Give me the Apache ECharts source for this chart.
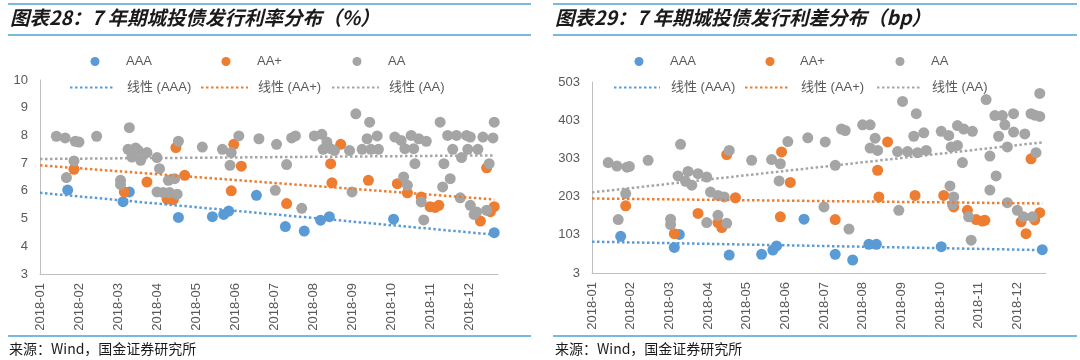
<!DOCTYPE html>
<html><head><meta charset="utf-8">
<script src="https://cdn.jsdelivr.net/npm/echarts@6/dist/echarts.min.js"></script>
<style>html,body{margin:0;padding:0;background:#fff}#c{width:1080px;height:360px}</style>
</head><body><div id="c"></div>
<script>
// ---- tick labels (one label every 31 days from 2018-01-01) ----
const xTickLabels = ['2018-01','2018-02','2018-03','2018-04','2018-05','2018-06','2018-07','2018-08','2018-09','2018-10','2018-11','2018-12'];
const seriesNames = ['AAA','AA+','AA'];
const trendNames = ['线性 (AAA)','线性 (AA+)','线性 (AA)'];

// ---- Chart 28: issuance rate (%) ; x = days since 2018-01-01 ----
const rateAAADays = [22,66,71,110,137,146,150,172,195,210,223,230,281,361];
const rateAAAVals = [6.03,5.61,5.96,5.04,5.07,5.15,5.27,5.84,4.71,4.55,4.94,5.07,4.98,4.49];
const rateAAPlusDays = [27,67,85,101,106,108,115,152,154,160,196,231,232,239,261,284,292,303,310,314,317,350,355,358,361];
const rateAAPlusVals = [6.78,5.96,6.32,5.70,5.69,7.56,6.56,6.00,7.68,6.89,5.54,6.98,6.29,7.68,6.38,6.26,5.93,5.78,5.43,5.40,5.48,4.91,6.83,5.25,5.43];
const rateAADays = [13,20,28,31,45,27,21,71,70,76,78,73,80,85,93,95,64,64,102,107,93,98,103,109,110,
  129,145,152,158,151,174,188,200,203,196,187,208,218,224,228,225,231,234,
  246,251,262,260,268,256,263,269,248,282,287,290,297,295,301,307,298,289,292,303,305,
  318,321,326,320,324,331,339,342,328,335,340,348,334,342,347,345,352,360,361,357,355];
const rateAAVals = [7.97,7.91,7.79,7.76,7.97,7.08,6.48,8.28,7.50,7.55,7.46,7.22,7.10,7.38,7.20,6.80,6.38,6.23,6.38,6.44,5.96,5.94,5.94,5.88,7.79,
  7.58,7.50,7.38,7.98,6.92,7.88,7.68,7.91,7.98,6.95,6.02,5.37,7.98,8.04,7.76,7.50,7.52,7.46,
  7.46,8.78,8.48,7.88,7.98,7.50,7.50,7.50,5.96,7.94,7.82,7.52,7.52,8.00,7.88,7.79,6.98,6.50,6.20,5.60,4.95,
  8.48,6.98,6.44,6.14,8.00,8.00,8.00,7.94,7.50,7.20,7.50,7.50,5.75,5.48,5.24,5.15,7.94,7.91,8.48,6.98,5.30];
const trendDays = [0, 361];
const rateTrendAAA = [5.93, 4.42];
const rateTrendAAPlus = [6.92, 5.69];
const rateTrendAA = [7.15, 7.28];

// ---- Chart 29: issuance spread (bp) ----
const spreadAAADays = [23,66,70,110,136,145,148,170,195,209,222,228,280,361];
const spreadAAAVals = [99,70,104,50,52,63,74,144,52,37,78,78,72,64];
const spreadAAPlusDays = [27,66,85,101,104,108,115,151,152,159,195,229,230,237,259,282,290,301,308,313,315,344,348,352,355,359];
const spreadAAPlusVals = [179,106,159,135,122,313,200,150,320,240,143,272,202,346,206,206,176,167,143,139,141,137,106,302,142,161];
const spreadAADays = [13,20,28,30,45,71,27,21,63,63,69,75,77,80,85,92,95,101,106,92,101,108,110,
  128,144,151,157,150,173,187,200,203,217,223,227,223,229,195,186,206,
  245,253,261,268,249,260,258,266,246,280,286,293,298,305,288,293,297,287,290,289,302,304,
  316,323,329,331,338,326,319,324,319,333,338,347,333,341,346,353,352,355,359,359,356];
const spreadAAVals = [292,283,280,282,298,340,211,143,144,130,257,243,269,233,263,254,215,206,202,135,154,133,324,
  298,300,289,347,244,357,346,380,376,391,391,356,330,324,285,176,118,
  321,321,318,324,452,420,361,370,167,374,363,389,380,374,333,337,292,231,202,182,150,89,
  457,415,415,391,420,361,309,257,220,333,372,367,187,167,150,150,420,416,413,473,318];
const spreadTrendAAA = [85, 63];
const spreadTrendAAPlus = [198, 185];
const spreadTrendAA = [214, 345];

const colors = ['#5B9BD5','#ED7D31','#A5A5A5'];
const latin = 'Liberation Sans, Arial, Noto Sans CJK SC, sans-serif';
const labelColor = '#595959';
const ruleColor = '#4AA3D2';

function pairs(xs, ys){ return xs.map((x,i)=>[x, ys[i]]); }

function scatter(name, xs, ys, idx, ci){
  return {type:'scatter', name, xAxisIndex:ci, yAxisIndex:ci, data:pairs(xs,ys),
    symbolSize:11, itemStyle:{color:colors[idx], opacity:1}, z:2+idx, silent:true};
}
function trend(name, ys, idx, ci){
  return {type:'line', name, xAxisIndex:ci, yAxisIndex:ci, data:pairs(trendDays, ys),
    symbol:'none', lineStyle:{color:colors[idx], width:2.5, type:[2.5,2.5]}, itemStyle:{color:colors[idx]}, z:10, silent:true};
}
function xAxis(ci){
  return {type:'value', gridIndex:ci, min:0, max:364, interval:31,
    axisLine:{show:true, lineStyle:{color:'#BFBFBF', width:1}}, axisTick:{show:false}, splitLine:{show:false},
    axisLabel:{rotate:90, margin:9, fontSize:13, color:labelColor, fontFamily:latin, showMaxLabel:false,
      formatter:(v)=> xTickLabels[Math.round(v/31)] || ''}};
}
function yAxis(ci, min, max, interval){
  return {type:'value', gridIndex:ci, min, max, interval,
    axisLine:{show:true, lineStyle:{color:'#BFBFBF', width:1}}, axisTick:{show:false}, splitLine:{show:false},
    axisLabel:{margin:12, fontSize:13, color:labelColor, fontFamily:latin}};
}
const legText = {fontSize:13, color:labelColor, fontFamily:latin};
function dotLegend(name, cx, cy, textX){
  return {data:[name], left:cx-4.5, top:cy-7, padding:0, icon:'circle', itemWidth:9, itemHeight:9,
    selectedMode:false, textStyle:Object.assign({padding:[0,0,0,textX-(cx+4.5+5)]}, legText)};
}
function lineLegend(name, x0, x1, cy, textX){
  return {data:[name], left:x0, top:cy-7, padding:0, itemWidth:x1-x0, itemHeight:14,
    selectedMode:false, itemStyle:{opacity:0},
    textStyle:Object.assign({padding:[0,0,0,textX-(x1+5)]}, legText)};
}

const chart = echarts.init(document.getElementById('c'), null, {renderer:'canvas'});
const option = {
  animation:false,
  backgroundColor:'#fff',
  title:[
    {text:'图表28：7 年期城投债发行利率分布（%）', left:10, top:8, padding:0,
      textStyle:{fontSize:19.5, fontWeight:'bold', fontStyle:'italic', color:'#1A1A1A', fontFamily:'Noto Sans CJK SC, sans-serif'}},
    {text:'图表29：7 年期城投债发行利差分布（bp）', left:555, top:8, padding:0,
      textStyle:{fontSize:19.5, fontWeight:'bold', fontStyle:'italic', color:'#1A1A1A', fontFamily:'Noto Sans CJK SC, sans-serif'}}
  ],
  grid:[
    {left:40, top:80, width:458, height:194},
    {left:592, top:82, width:454, height:191}
  ],
  xAxis:[xAxis(0), xAxis(1)],
  yAxis:[yAxis(0,3,10,1), yAxis(1,3,503,100)],
  legend:[
    dotLegend(seriesNames[0], 95, 62, 126), dotLegend(seriesNames[1], 226, 62, 257), dotLegend(seriesNames[2], 357, 62, 388),
    lineLegend(trendNames[0], 69, 114, 88, 126), lineLegend(trendNames[1], 200, 247, 88, 257), lineLegend(trendNames[2], 331, 378, 88, 388),
    dotLegend(seriesNames[0], 639, 62, 670), dotLegend(seriesNames[1], 770, 62, 800), dotLegend(seriesNames[2], 900, 62, 931),
    lineLegend(trendNames[0], 613, 659, 88, 670), lineLegend(trendNames[1], 744, 788, 88, 800), lineLegend(trendNames[2], 876, 921, 88, 931)
  ],
  graphic:[
    {type:'line', shape:{x1:8, y1:4, x2:531, y2:4}, style:{stroke:ruleColor, lineWidth:1.5}},
    {type:'line', shape:{x1:8, y1:35, x2:531, y2:35}, style:{stroke:ruleColor, lineWidth:1.5}},
    {type:'line', shape:{x1:8, y1:336, x2:531, y2:336}, style:{stroke:ruleColor, lineWidth:1.5}},
    {type:'line', shape:{x1:553, y1:4, x2:1077, y2:4}, style:{stroke:ruleColor, lineWidth:1.5}},
    {type:'line', shape:{x1:553, y1:35, x2:1077, y2:35}, style:{stroke:ruleColor, lineWidth:1.5}},
    {type:'line', shape:{x1:553, y1:336, x2:1077, y2:336}, style:{stroke:ruleColor, lineWidth:1.5}},
    {type:'text', left:9, top:342, style:{text:'来源：Wind，国金证券研究所', fontSize:14, fill:'#1A1A1A', fontFamily:'Noto Sans CJK SC, sans-serif'}},
    {type:'text', left:555, top:342, style:{text:'来源：Wind，国金证券研究所', fontSize:14, fill:'#1A1A1A', fontFamily:'Noto Sans CJK SC, sans-serif'}}
  ],
  series:[
    scatter(seriesNames[0], rateAAADays, rateAAAVals, 0, 0),
    scatter(seriesNames[1], rateAAPlusDays, rateAAPlusVals, 1, 0),
    scatter(seriesNames[2], rateAADays, rateAAVals, 2, 0),
    trend(trendNames[0], rateTrendAAA, 0, 0),
    trend(trendNames[1], rateTrendAAPlus, 1, 0),
    trend(trendNames[2], rateTrendAA, 2, 0),
    scatter(seriesNames[0], spreadAAADays, spreadAAAVals, 0, 1),
    scatter(seriesNames[1], spreadAAPlusDays, spreadAAPlusVals, 1, 1),
    scatter(seriesNames[2], spreadAADays, spreadAAVals, 2, 1),
    trend(trendNames[0], spreadTrendAAA, 0, 1),
    trend(trendNames[1], spreadTrendAAPlus, 1, 1),
    trend(trendNames[2], spreadTrendAA, 2, 1)
  ]
};
chart.setOption(option);
</script>
</body></html>
